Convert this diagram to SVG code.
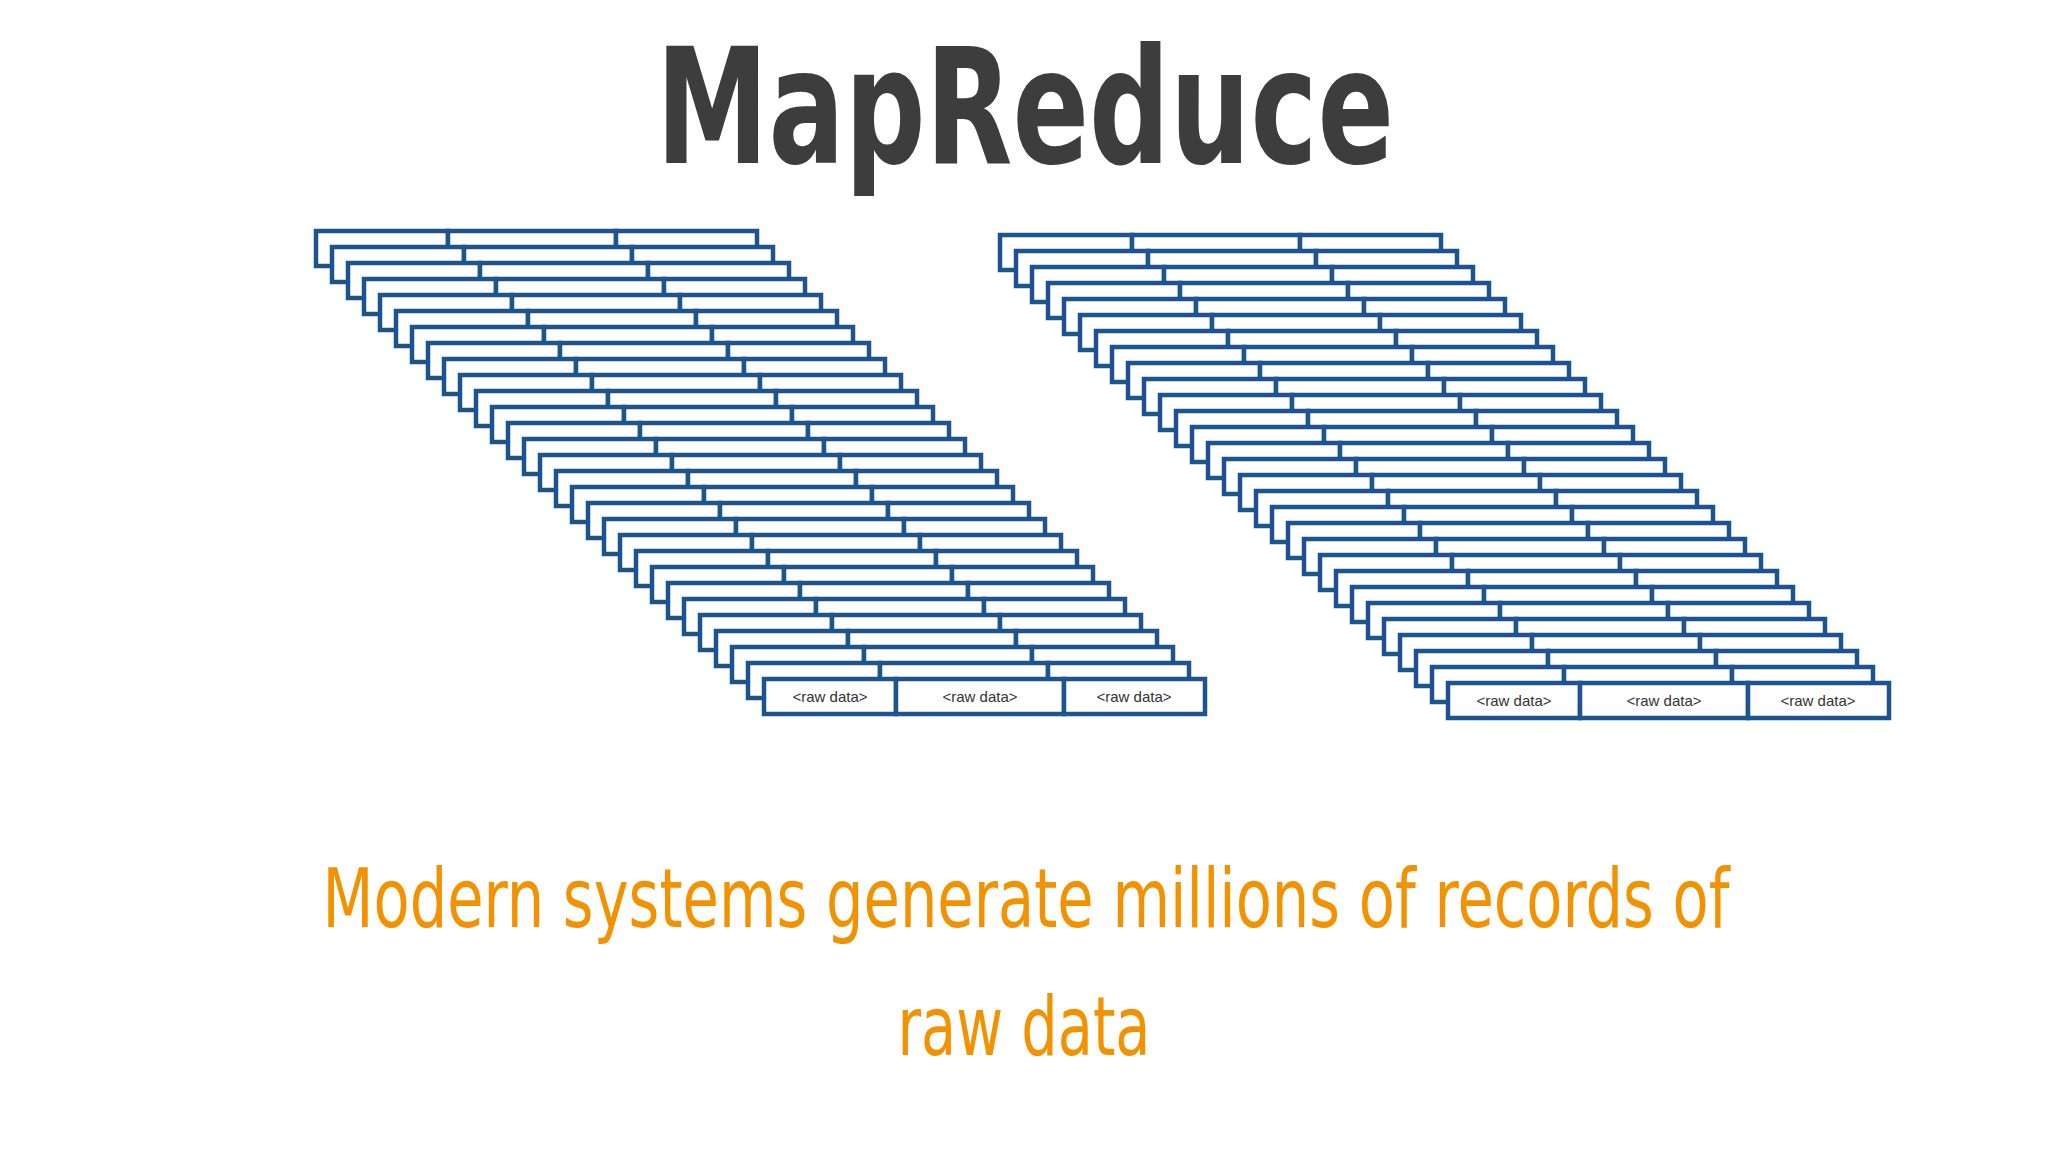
<svg xmlns="http://www.w3.org/2000/svg" xmlns:xlink="http://www.w3.org/1999/xlink" width="2048" height="1152" viewBox="0 0 2048 1152">
<style>
.c{fill:#fff;stroke:#1d5390;stroke-width:4.5}
.t{font-family:"Liberation Sans",Arial,sans-serif;font-size:15px;fill:#333;text-anchor:middle}
.title{font-family:"DejaVu Sans",sans-serif;font-weight:bold;font-size:160px;fill:#3d3d3d;text-anchor:middle}
.sub{font-family:"Liberation Sans Narrow","DejaVu Sans Condensed",sans-serif;font-size:82px;fill:#f39200;text-anchor:middle}
</style>
<defs>
<g id="row">
<rect class="c" x="0" y="0" width="132" height="35"/>
<rect class="c" x="132" y="0" width="168" height="35"/>
<rect class="c" x="300" y="0" width="141" height="35"/>
</g>
<g id="front">
<use xlink:href="#row"/>
<text class="t" x="66" y="23">&lt;raw data&gt;</text>
<text class="t" x="216" y="23">&lt;raw data&gt;</text>
<text class="t" x="370" y="23">&lt;raw data&gt;</text>
</g>
</defs>
<rect width="2048" height="1152" fill="#fff"/>
<g id="title"><text class="title" x="1025" y="163" textLength="738" lengthAdjust="spacingAndGlyphs">MapReduce</text></g>
<g id="stack-left">
<use xlink:href="#row" x="316" y="231"/><use xlink:href="#row" x="332" y="247"/><use xlink:href="#row" x="348" y="263"/><use xlink:href="#row" x="364" y="279"/><use xlink:href="#row" x="380" y="295"/><use xlink:href="#row" x="396" y="311"/><use xlink:href="#row" x="412" y="327"/><use xlink:href="#row" x="428" y="343"/><use xlink:href="#row" x="444" y="359"/><use xlink:href="#row" x="460" y="375"/><use xlink:href="#row" x="476" y="391"/><use xlink:href="#row" x="492" y="407"/><use xlink:href="#row" x="508" y="423"/><use xlink:href="#row" x="524" y="439"/><use xlink:href="#row" x="540" y="455"/><use xlink:href="#row" x="556" y="471"/><use xlink:href="#row" x="572" y="487"/><use xlink:href="#row" x="588" y="503"/><use xlink:href="#row" x="604" y="519"/><use xlink:href="#row" x="620" y="535"/><use xlink:href="#row" x="636" y="551"/><use xlink:href="#row" x="652" y="567"/><use xlink:href="#row" x="668" y="583"/><use xlink:href="#row" x="684" y="599"/><use xlink:href="#row" x="700" y="615"/><use xlink:href="#row" x="716" y="631"/><use xlink:href="#row" x="732" y="647"/><use xlink:href="#row" x="748" y="663"/><use xlink:href="#front" x="764" y="679"/>
</g>
<g id="stack-right">
<use xlink:href="#row" x="1000" y="235"/><use xlink:href="#row" x="1016" y="251"/><use xlink:href="#row" x="1032" y="267"/><use xlink:href="#row" x="1048" y="283"/><use xlink:href="#row" x="1064" y="299"/><use xlink:href="#row" x="1080" y="315"/><use xlink:href="#row" x="1096" y="331"/><use xlink:href="#row" x="1112" y="347"/><use xlink:href="#row" x="1128" y="363"/><use xlink:href="#row" x="1144" y="379"/><use xlink:href="#row" x="1160" y="395"/><use xlink:href="#row" x="1176" y="411"/><use xlink:href="#row" x="1192" y="427"/><use xlink:href="#row" x="1208" y="443"/><use xlink:href="#row" x="1224" y="459"/><use xlink:href="#row" x="1240" y="475"/><use xlink:href="#row" x="1256" y="491"/><use xlink:href="#row" x="1272" y="507"/><use xlink:href="#row" x="1288" y="523"/><use xlink:href="#row" x="1304" y="539"/><use xlink:href="#row" x="1320" y="555"/><use xlink:href="#row" x="1336" y="571"/><use xlink:href="#row" x="1352" y="587"/><use xlink:href="#row" x="1368" y="603"/><use xlink:href="#row" x="1384" y="619"/><use xlink:href="#row" x="1400" y="635"/><use xlink:href="#row" x="1416" y="651"/><use xlink:href="#row" x="1432" y="667"/><use xlink:href="#front" x="1448" y="683"/>
</g>
<g id="caption">
<text class="sub" x="1026" y="927" textLength="1407" lengthAdjust="spacingAndGlyphs">Modern systems generate millions of records of</text>
<text class="sub" x="1024" y="1055" textLength="253" lengthAdjust="spacingAndGlyphs">raw data</text>
</g>
</svg>
